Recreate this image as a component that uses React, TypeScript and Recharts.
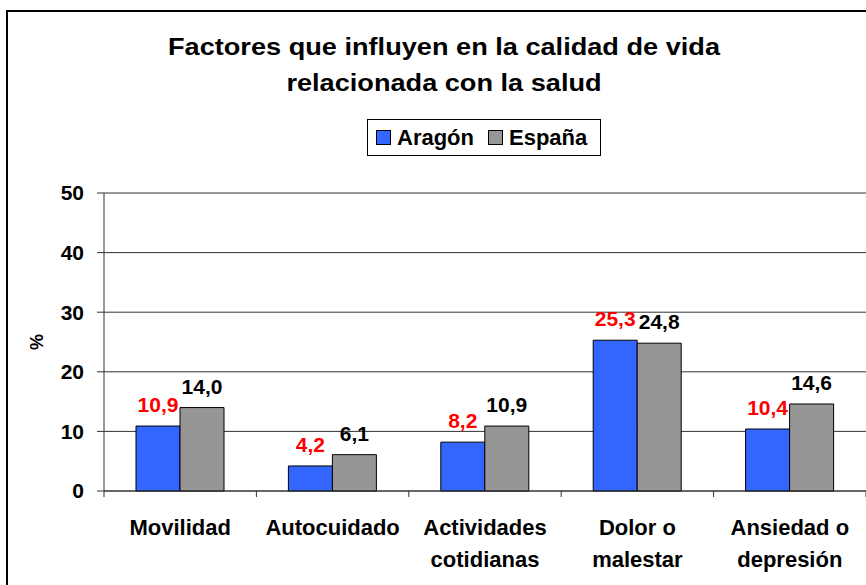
import React from 'react';
import { BarChart, Bar, XAxis, YAxis, CartesianGrid, LabelList } from 'recharts';

// datos (%)
const categorias = ['Movilidad', 'Autocuidado', 'Actividades\ncotidianas', 'Dolor o\nmalestar', 'Ansiedad o\ndepresión'];
const aragon = [10.9, 4.2, 8.2, 25.3, 10.4];
const espana = [14.0, 6.1, 10.9, 24.8, 14.6];
const yTicks = [0, 10, 20, 30, 40, 50];

const data = categorias.map((cat, i) => ({ cat, aragon: aragon[i], espana: espana[i] }));

const W = 866;
const H = 585;
const LEFT = 104;
const BAND = (W - LEFT) / categorias.length;
const FONT = '"Liberation Sans", Arial, sans-serif';
const AXIS = '#333';

const fmt = (v: any) => Number(v).toFixed(1).replace('.', ',');

// etiqueta de categoría + marcas en los límites de cada categoría
function XTick(props: any) {
  const { x, y, payload, index } = props;
  const lines = String(payload.value).split('\n');
  return (
    <g>
      <line x1={x - BAND / 2} x2={x - BAND / 2} y1={y} y2={y + 6} stroke={AXIS} />
      {index === categorias.length - 1 && (
        <line x1={x + BAND / 2} x2={x + BAND / 2} y1={y} y2={y + 6} stroke={AXIS} />
      )}
      <text x={x} y={y + 44} textAnchor="middle" fontFamily={FONT} fontWeight="bold" fontSize={22} fill="#000">
        {lines.map((l, i) => (
          <tspan key={i} x={x} dy={i === 0 ? 0 : 32}>{l}</tspan>
        ))}
      </text>
    </g>
  );
}

export default function App() {
  return (
    <div style={{ position: 'absolute', left: 0, top: 0, width: W, height: H, overflow: 'hidden', background: '#fff', fontFamily: FONT }}>
      <div style={{ position: 'absolute', left: 6, top: 10, width: 900, height: 620, border: '2px solid #000' }} />

      <div style={{ position: 'absolute', left: 444 - 300, top: 29, width: 600, textAlign: 'center', fontSize: 23, fontWeight: 'bold', lineHeight: '36px', transform: 'scaleX(1.18)', color: '#000' }}>
        Factores que influyen en la calidad de vida<br />relacionada con la salud
      </div>

      {/* Leyenda */}
      <div style={{ position: 'absolute', left: 367, top: 119, width: 232, height: 35, boxSizing: 'content-box', border: '1px solid #000', display: 'flex', alignItems: 'center', paddingLeft: 0, fontSize: 22, fontWeight: 'bold', background: '#fff' }}>
        <span style={{ display: 'flex', alignItems: 'center', gap: 6, marginLeft: 8 }}>
          <span style={{ width: 13, height: 13, background: '#3366FF', border: '1px solid #000' }} />
          Aragón
        </span>
        <span style={{ display: 'flex', alignItems: 'center', gap: 6, marginLeft: 14 }}>
          <span style={{ width: 13, height: 13, background: '#969696', border: '1px solid #000' }} />
          España
        </span>
      </div>

      <div style={{ position: 'absolute', left: 0, top: 0 }}>
        <BarChart
          width={W}
          height={H}
          data={data}
          margin={{ top: 193, right: 0, bottom: 0, left: 44 }}
          barCategoryGap="21%"
          barGap={0}
        >
          <CartesianGrid vertical={false} stroke={AXIS} strokeWidth={1} />
          <XAxis
            dataKey="cat"
            height={94}
            axisLine={{ stroke: AXIS }}
            tickLine={false}
            tickSize={0}
            tickMargin={0}
            interval={0}
            tick={<XTick />}
          />
          <YAxis
            width={60}
            domain={[0, 50]}
            ticks={yTicks}
            interval={0}
            axisLine={{ stroke: AXIS }}
            tickLine={{ stroke: AXIS }}
            tickSize={7}
            tickMargin={13}
            tick={{ fill: '#000', fontSize: 21, fontWeight: 'bold', fontFamily: FONT }}
            label={{ value: '%', angle: -90, position: 'insideLeft', dx: -12, style: { textAnchor: 'middle', fontSize: 18, fontWeight: 'bold', fontFamily: FONT, fill: '#000' } }}
          />
          <Bar dataKey="aragon" name="Aragón" fill="#3366FF" stroke="#000" strokeWidth={1} isAnimationActive={false}>
            <LabelList dataKey="aragon" position="top" offset={14} formatter={fmt} fill="#FF0000" fontSize={21} fontWeight="bold" fontFamily={FONT} />
          </Bar>
          <Bar dataKey="espana" name="España" fill="#969696" stroke="#000" strokeWidth={1} isAnimationActive={false}>
            <LabelList dataKey="espana" position="top" offset={14} formatter={fmt} fill="#000" fontSize={21} fontWeight="bold" fontFamily={FONT} />
          </Bar>
        </BarChart>
      </div>
    </div>
  );
}
